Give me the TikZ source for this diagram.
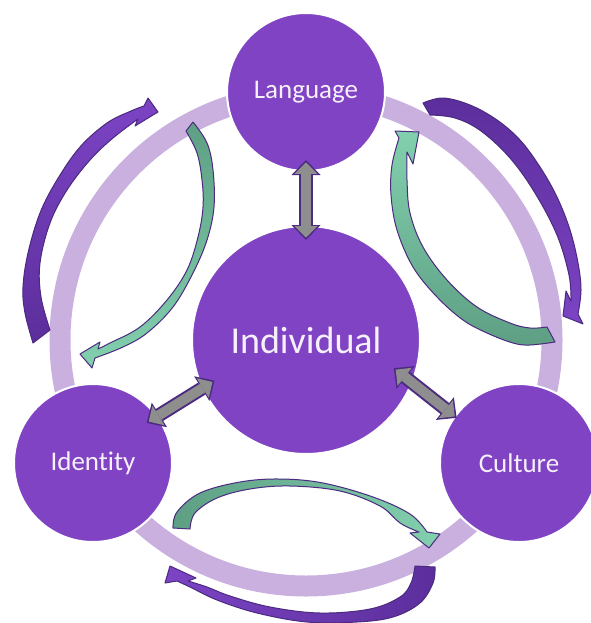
\documentclass[tikz,border=0pt]{standalone}
\usepackage{fontspec}
\setmainfont{Carlito}[Ligatures=NoCommon]
\usetikzlibrary{arrows.meta,calc}
\definecolor{hub}{HTML}{8043C3}
\definecolor{rim}{HTML}{C9B0DE}
\definecolor{edge}{HTML}{4B2A80}
\definecolor{steel}{HTML}{8E8E8E}
\definecolor{plum}{HTML}{7C44C4}
\definecolor{plumdeep}{HTML}{5C2E9C}
\definecolor{mint}{HTML}{82D0AE}
\definecolor{mintdeep}{HTML}{5E9F84}
\definecolor{paper}{HTML}{F6F0FA}
% grey two-headed link, pushed a little into both circles
\newcommand{\twoway}[4]{%
  \coordinate (p) at ($(#1)!-#3pt!(#2)$);
  \coordinate (q) at ($(#2)!-#4pt!(#1)$);
  \draw[link] (p) -- (q);
  \draw[linkcore] (p) -- (q);
}

\begin{document}
\begin{tikzpicture}[x=1pt,y=-1pt,
  topic/.style={circle,fill=hub,draw=white,line width=2pt,text=paper,
    minimum size=158pt,inner sep=0pt,font=\fontsize{27}{32}\selectfont},
  link/.style={draw=edge,line width=14pt,
    {Triangle[length=15pt,width=29pt,line width=0pt]}-{Triangle[length=15pt,width=29pt,line width=0pt]}},
  linkcore/.style={draw=steel,line width=10pt,shorten <=2.4pt,shorten >=2.4pt,
    {Triangle[length=11.5pt,width=23pt,line width=0pt]}-{Triangle[length=11.5pt,width=23pt,line width=0pt]}},
  outloop/.style={draw=edge,line width=1pt,line join=round},
  inloop/.style={draw=edge,line width=1pt,line join=round},
  curvy/.style={smooth,tension=0.6}]
\useasboundingbox (0,0) rectangle (590,623);

% the big ring the three topics sit on
\coordinate (mid) at (306,340);
\draw[rim,line width=21pt] (mid) circle[radius=246pt];

% left pair
\draw[outloop,top color=plum,bottom color=plumdeep] plot[curvy] coordinates {(33,343) (25,313) (23,287) (28,253) (40,213) (57,180) (80,147) (107,123) (131,111) (144,106)}
  -- (148,98) -- (158,112) -- (135,126)
  -- plot[curvy] coordinates {(138,119) (113,138) (90,160) (67,190) (50,223) (40,263) (41,297) (50,330)} -- cycle;
\draw[inloop,top color=mintdeep,bottom color=mint] plot[curvy] coordinates {(193,122) (207,143) (213,170) (214,207) (207,240) (193,273) (173,307) (147,333) (123,347) (95,358)}
  -- (92,368) -- (80,354) -- (100,342)
  -- plot[curvy] coordinates {(98,349) (110,343) (140,327) (167,300) (187,270) (198,237) (203,207) (202,180) (197,153) (186,131)} -- cycle;

% right pair
\draw[outloop,top color=plumdeep,bottom color=plum] plot[curvy] coordinates {(423,103) (443,98) (470,105) (497,120) (520,140) (540,167) (557,197) (570,230) (578,263) (581,290) (578,314)}
  -- (583,324) -- (563,316) -- (566,291)
  -- plot[curvy] coordinates {(571,301) (569,275) (557,235) (535,193) (510,158) (481,131) (455,118) (430,115)} -- cycle;
\draw[inloop,top color=mint,bottom color=mintdeep] plot[curvy] coordinates {(555,342) (530,345) (513,343) (487,333) (463,320) (437,297) (413,267) (397,230) (391,195) (392,165) (399,138)}
  -- (395,131) -- (419,132) -- (413,164)
  -- plot[curvy] coordinates {(407,152) (407,180) (410,213) (423,247) (447,280) (477,307) (510,323) (530,328) (547,327)} -- cycle;

% bottom pair
\draw[inloop,left color=mintdeep,right color=mint] plot[curvy] coordinates {(173,528) (177,512) (200,493) (240,482) (280,479) (323,483) (373,497) (410,514) (427,532)}
  -- (440,534) -- (429,548) -- (410,533)
  -- plot[curvy] coordinates {(419,532) (400,523) (380,506) (340,491) (290,486) (250,489) (217,498) (195,513) (190,529)} -- cycle;
\draw[outloop,left color=plum,right color=plumdeep] plot[curvy] coordinates {(435,567) (433,583) (420,603) (393,617) (357,622) (307,622) (257,613) (217,600) (190,587) (177,581)}
  -- (165,583) -- (170,566) -- (196,578)
  -- plot[curvy] coordinates {(188,581) (207,587) (230,596) (270,607) (320,613) (370,609) (400,597) (411,583) (415,566)} -- cycle;

% topics
\node[topic] (lang) at (306,92) {Language};
\node[topic] (ident) at (93,463) {Identity};
\node[topic] (cult) at (519,463) {Culture};
\node[topic,minimum size=228pt,font=\fontsize{38}{46}\selectfont] (ind) at (mid) {Individual};

% links to the centre
\twoway{lang.south}{ind.north}{12}{15}
\twoway{ind.205}{ident.36}{15}{13}
\twoway{ind.338}{cult.144}{24}{3}
\end{tikzpicture}
\end{document}
